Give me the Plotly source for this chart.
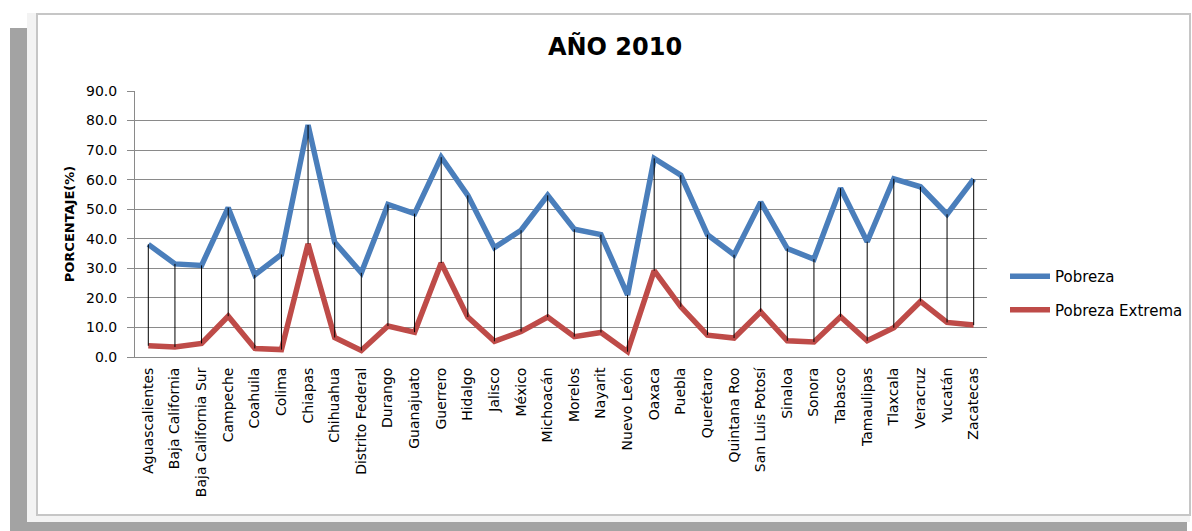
import plotly.graph_objects as go

# Porcentaje de población en pobreza por entidad federativa, 2010
estados = [
    "Aguascalientes", "Baja California", "Baja California Sur", "Campeche",
    "Coahuila", "Colima", "Chiapas", "Chihuahua", "Distrito Federal",
    "Durango", "Guanajuato", "Guerrero", "Hidalgo", "Jalisco", "México",
    "Michoacán", "Morelos", "Nayarit", "Nuevo León", "Oaxaca", "Puebla",
    "Querétaro", "Quintana Roo", "San Luis Potosí", "Sinaloa", "Sonora",
    "Tabasco", "Tamaulipas", "Tlaxcala", "Veracruz", "Yucatán", "Zacatecas",
]
pobreza = [
    38.1, 31.5, 31.0, 50.5, 27.8, 34.7, 78.5, 38.8, 28.5, 51.6, 48.5,
    67.6, 54.7, 37.0, 42.9, 54.7, 43.2, 41.4, 21.0, 67.2, 61.5, 41.4,
    34.6, 52.4, 36.7, 33.1, 57.1, 39.0, 60.3, 57.6, 48.3, 60.2,
]
pobreza_extrema = [
    3.8, 3.4, 4.6, 13.8, 2.9, 2.5, 38.3, 6.6, 2.2, 10.5, 8.4,
    31.8, 13.5, 5.3, 8.6, 13.5, 6.9, 8.3, 1.8, 29.2, 17.0, 7.4,
    6.4, 15.3, 5.5, 5.1, 13.6, 5.5, 9.9, 18.8, 11.7, 10.8,
]
y_ticks = [0, 10, 20, 30, 40, 50, 60, 70, 80, 90]

W, H = 1192, 531
M_L, M_R, M_T, M_B = 135, 205, 91, 174
PW, PH = W - M_L - M_R, H - M_T - M_B

FONT = "DejaVu Sans"
GRID = "#8a8a8a"


def fx(px):
    """Pixel column -> paper x."""
    return (px - M_L) / PW


def fy(py):
    """Pixel row -> paper y."""
    return (H - M_B - py) / PH


fig = go.Figure()

fig.add_trace(go.Scatter(
    x=estados, y=pobreza, name="Pobreza", mode="lines",
    line=dict(color="#4a7ebb", width=5.5), legendgroup="a",
))
fig.add_trace(go.Scatter(
    x=estados, y=pobreza_extrema, name="Pobreza Extrema", mode="lines",
    line=dict(color="#be4b48", width=5.5), legendgroup="b",
))

# líneas máximo-mínimo entre ambas series
hl_x, hl_y = [], []
for e, hi, lo in zip(estados, pobreza, pobreza_extrema):
    hl_x += [e, e, None]
    hl_y += [hi, lo, None]
fig.add_trace(go.Scatter(
    x=hl_x, y=hl_y, mode="lines", showlegend=False, hoverinfo="skip",
    line=dict(color="black", width=1),
))

# marco de la hoja de cálculo y del área del gráfico
shapes = [
    dict(type="rect", xref="paper", yref="paper", layer="below",
         x0=fx(27), x1=fx(37), y0=fy(522), y1=fy(13),
         fillcolor="#f3f3f3", line=dict(width=0)),
    dict(type="rect", xref="paper", yref="paper", layer="below",
         x0=fx(27), x1=fx(1190), y0=fy(522), y1=fy(515),
         fillcolor="#f3f3f3", line=dict(width=0)),
    dict(type="rect", xref="paper", yref="paper", layer="below",
         x0=fx(10), x1=fx(27), y0=fy(531), y1=fy(28),
         fillcolor="#a3a3a3", line=dict(width=0)),
    dict(type="rect", xref="paper", yref="paper", layer="below",
         x0=fx(10), x1=fx(1187), y0=fy(531), y1=fy(522),
         fillcolor="#a3a3a3", line=dict(width=0)),
    dict(type="rect", xref="paper", yref="paper", layer="below",
         x0=fx(37), x1=fx(1190), y0=fy(515), y1=fy(14),
         fillcolor="white", line=dict(color="#c6c6c6", width=2)),
]

fig.update_layout(
    width=W, height=H,
    margin=dict(l=M_L, r=M_R, t=M_T, b=M_B, autoexpand=False),
    paper_bgcolor="white", plot_bgcolor="rgba(0,0,0,0)",
    font=dict(family=FONT, color="black", size=14),
    title=dict(
        text="<b>AÑO 2010</b>", font=dict(family=FONT, size=24, color="black"),
        x=615 / W, xanchor="center", xref="container",
        y=1 - 47 / H, yanchor="middle", yref="container",
    ),
    shapes=shapes,
    showlegend=True,
    legend=dict(
        x=fx(1005), y=fy(260), xanchor="left", yanchor="top",
        font=dict(family=FONT, size=15, color="black"),
        bgcolor="rgba(0,0,0,0)", tracegroupgap=11, itemwidth=40,
    ),
    xaxis=dict(
        type="category", range=[-0.5, len(estados) - 0.5],
        showgrid=False, showline=True, linecolor=GRID, linewidth=1,
        ticks="", tickangle=-90, tickfont=dict(family=FONT, size=14),
        ticklabelstandoff=4, fixedrange=True,
    ),
    yaxis=dict(
        range=[0, 90], tickvals=y_ticks, tickformat=".1f",
        showgrid=True, gridcolor=GRID, gridwidth=1,
        showline=True, linecolor=GRID, linewidth=1,
        ticks="outside", ticklen=7, tickcolor=GRID,
        tickfont=dict(family=FONT, size=14), ticklabelstandoff=7,
        zeroline=False,
        title=dict(text="<b>PORCENTAJE(%)</b>", standoff=8,
                   font=dict(family=FONT, size=13)),
        fixedrange=True,
    ),
)

fig.write_html("out.html")
